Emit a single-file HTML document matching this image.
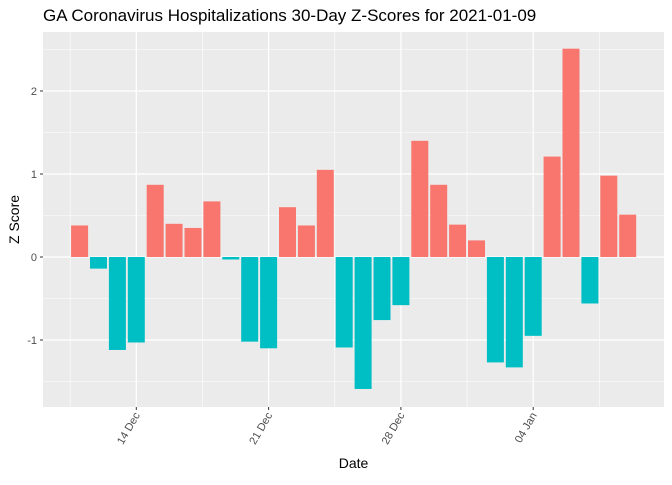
<!DOCTYPE html>
<html><head><meta charset="utf-8"><style>
body{margin:0;background:#fff;font-family:"Liberation Sans",Arial,sans-serif}
</style></head><body>
<svg id="c" width="672" height="480" xmlns="http://www.w3.org/2000/svg"></svg>
<script>
const dayOffsets=[0,1,2,3,4,5,6,7,8,9,10,11,12,13,14,15,16,17,18,19,20,21,22,23,24,25,26,27,28,29]; // days since 11 Dec
const zScores=[0.38,-0.14,-1.12,-1.03,0.87,0.40,0.35,0.67,-0.03,-1.02,-1.10,0.60,0.38,1.05,-1.09,-1.59,-0.76,-0.58,1.40,0.87,0.39,0.20,-1.27,-1.33,-0.95,1.21,2.51,-0.56,0.98,0.51];
const xTickDays=[3,10,17,24];
const xTickLabels=["14 Dec","21 Dec","28 Dec","04 Jan"];
const yTicks=[-1,0,1,2];
const NS="http://www.w3.org/2000/svg";
const svg=document.getElementById('c');
const L=43,R=664,T=32,B=407;
const x=d=>79.6+(d)*18.9;
const y=v=>257-v*83;
function mk(t,a,p){const e=document.createElementNS(NS,t);for(const k in a)e.setAttribute(k,a[k]);(p||svg).appendChild(e);return e;}
const panel=mk('rect',{x:L,y:T,width:R-L,height:B-T,fill:'#ebebeb'});


// minor y grid
for(const v of [-1.5,-0.5,0.5,1.5,2.5]){const g=mk('line',{x1:L,x2:R,y1:y(v),y2:y(v),stroke:'#fff','stroke-width':0.6});}
for(const d of [-0.5,6.5,13.5,20.5,27.5]){const g=mk('line',{x1:x(d),x2:x(d),y1:T,y2:B,stroke:'#fff','stroke-width':0.6});}
for(const v of yTicks){const g=mk('line',{x1:L,x2:R,y1:y(v),y2:y(v),stroke:'#fff','stroke-width':1.2});}
for(const d of xTickDays){const g=mk('line',{x1:x(d),x2:x(d),y1:T,y2:B,stroke:'#fff','stroke-width':1.2});}
// bars
dayOffsets.forEach((d,i)=>{const v=zScores[i];const w=17;
const b=mk('rect',{x:x(d)-w/2,y:Math.min(y(v),y(0)),width:w,height:Math.abs(y(v)-y(0)),fill:v>=0?'#f8766d':'#00bfc4'});

});
// y ticks
yTicks.forEach(v=>{mk('line',{x1:L-3,x2:L,y1:y(v),y2:y(v),stroke:'#333'});
const t=mk('text',{x:L-6,y:y(v)+4,'text-anchor':'end','font-size':11,fill:'#4d4d4d'});t.textContent=v;
});
xTickDays.forEach((d,i)=>{mk('line',{x1:x(d),x2:x(d),y1:B,y2:B+3,stroke:'#333'});
const t=mk('text',{x:x(d)+4,y:B+8,'text-anchor':'end','font-size':11,fill:'#4d4d4d',transform:`rotate(-60 ${x(d)+4} ${B+8})`});t.textContent=xTickLabels[i];
});
const ti=mk('text',{x:43,y:21,'font-size':17,fill:'#000'});ti.textContent='GA Coronavirus Hospitalizations 30-Day Z-Scores for 2021-01-09';

const xt=mk('text',{x:(L+R)/2,y:468,'text-anchor':'middle','font-size':14,fill:'#000'});xt.textContent='Date';

const yt=mk('text',{x:19,y:(T+B)/2,'text-anchor':'middle','font-size':14,fill:'#000',transform:`rotate(-90 19 ${(T+B)/2})`});yt.textContent='Z Score';

</script>
</body></html>
